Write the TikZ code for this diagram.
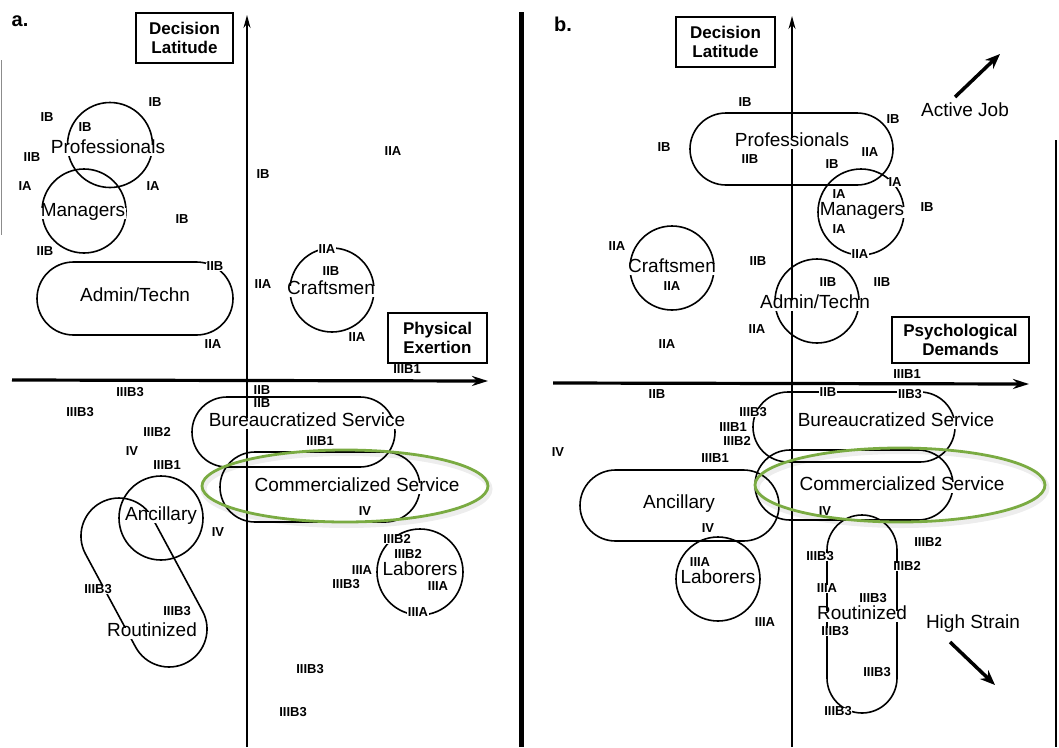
\documentclass[tikz,border=0pt]{standalone}
\usepackage{fontspec}
\setmainfont{Liberation Sans}
\usetikzlibrary{arrows.meta,shapes.misc,shapes.geometric}
\definecolor{hl}{RGB}{122,171,66}
\begin{document}
\begin{tikzpicture}[x=1pt,y=-1pt,
  shp/.style={draw, line width=1.6pt},
  ring/.style={shp, circle, inner sep=0pt, minimum size=#1},
  capsule/.style={shp, rounded rectangle, inner sep=0pt},
  code/.style={font=\bfseries\fontsize{13}{14}\selectfont, fill=white, inner sep=0.6pt,
    text height=0.72em, text depth=0pt},
  grp/.style={font=\fontsize{19}{20}\selectfont, fill=white, inner sep=1pt,
    text height=0.8em, text depth=0.1em},
  ttl/.style={draw, line width=1.8pt, font=\bfseries\fontsize{17}{18.5}\selectfont,
    align=center, inner sep=0pt},
  tag/.style={font=\bfseries\fontsize{20}{21}\selectfont},
  axisv/.style={line width=1.8pt, -{Stealth[length=13pt,width=7pt]}},
  axish/.style={line width=3.2pt, -{Stealth[length=16pt,width=10pt]}},
  trend/.style={line width=3.5pt, -{Stealth[length=15pt,width=12pt]}},
  mark ring/.style={draw=hl, line width=2.8pt, ellipse, inner sep=0pt},
  halo/.style={draw=black, opacity=0.07, line width=6pt, ellipse, inner sep=0pt}
]
\useasboundingbox (0,0) rectangle (1059,747);

% ---------- frame lines ----------
\coordinate (divT) at (521,12);   \coordinate (divB) at (521,747);
\coordinate (edgeT) at (1056,140); \coordinate (edgeB) at (1056,747);
\coordinate (ledgeT) at (1,60);   \coordinate (ledgeB) at (1,235);
\draw[line width=5pt] (divT) -- (divB);
\draw[line width=1.6pt] (edgeT) -- (edgeB);
\draw[line width=1pt, black!45] (ledgeT) -- (ledgeB);

% ---------- axes ----------
\coordinate (aV0) at (247,747); \coordinate (aV1) at (247,15);
\coordinate (aH0) at (12,380);  \coordinate (aH1) at (488,381);
\coordinate (bV0) at (792,747); \coordinate (bV1) at (792,16);
\coordinate (bH0) at (553,383); \coordinate (bH1) at (1029,384);
\draw[axisv] (aV0) -- (aV1);
\draw[axish] (aH0) -- (aH1);
\draw[axisv] (bV0) -- (bV1);
\draw[axish] (bH0) -- (bH1);

% ---------- panel a: group outlines ----------
\node[ring=85pt] (aProf) at (110,145) {};
\node[ring=84pt] (aMan) at (84,211) {};
\node[capsule, minimum width=196pt, minimum height=73pt] (aAdm) at (135,298.5) {};
\node[ring=84pt] (aCraft) at (332,290) {};
\node[capsule, minimum width=203pt, minimum height=70pt] (aBur) at (293.5,432) {};
\node[capsule, minimum width=200pt, minimum height=70pt] (aCom) at (320,487) {};
\node[ring=84pt] (aAnc) at (161,518) {};
\node[capsule, rotate=-61.7, minimum width=181.6pt, minimum height=76pt] (aRout) at (144,582.5) {};
\node[ring=86pt] (aLab) at (420,572) {};

% ---------- panel b: group outlines ----------
\node[capsule, minimum width=203pt, minimum height=72pt] (bProf) at (791.5,149) {};
\node[ring=86pt] (bMan) at (861,212) {};
\node[ring=84pt] (bAdm) at (817,301) {};
\node[ring=84pt] (bCraft) at (672,268) {};
\node[capsule, minimum width=202pt, minimum height=70pt] (bBur) at (854,427) {};
\node[capsule, minimum width=198pt, minimum height=70pt] (bCom) at (854,485) {};
\node[capsule, minimum width=199pt, minimum height=71pt] (bAnc) at (679.5,505.5) {};
\node[ring=84pt] (bLab) at (718,579) {};
\node[capsule, rotate=90, minimum width=198pt, minimum height=70pt] (bRout) at (862,614) {};

% ---------- panel labels and axis titles ----------
\node[tag] (tagA) at (20,21) {a.};
\node[tag] (tagB) at (563,24) {b.};
\node[ttl, minimum width=97pt, minimum height=50pt] (aDL) at (184.5,38) {Decision\\Latitude};
\node[ttl, minimum width=99pt, minimum height=50pt] (aPE) at (437.5,338) {Physical\\Exertion};
\node[ttl, minimum width=99pt, minimum height=50pt] (bDL) at (725.5,42) {Decision\\Latitude};
\node[ttl, minimum width=137pt, minimum height=46pt] (bPD) at (960.5,340) {Psychological\\Demands};

% ---------- panel a: occupation codes ----------
\foreach \x/\y/\t [count=\i] in {
  47/118/IB, 155/103/IB, 85/128/IB, 32/158/IIB, 25/187/IA, 153/187/IA,
  182/220/IB, 45/252/IIB, 215/267/IIB, 213/345/IIA, 263/175/IB, 393/152/IIA,
  327/250/IIA, 331/272/IIB, 263/285/IIA, 357/338/IIA, 407/370/IIIB1,
  262/391/IIB, 262/404/IIB, 130/393/IIIB3, 80/413/IIIB3, 157/433/IIIB2,
  132/452/IV, 167/466/IIIB1, 320/442/IIIB1, 218/533/IV, 365/512/IV,
  98/590/IIIB3, 177/612/IIIB3, 397/540/IIIB2, 408/555/IIIB2, 362/571/IIIA,
  346/585/IIIB3, 438/587/IIIA, 418/613/IIIA, 310/670/IIIB3, 293/713/IIIB3}
  \node[code] (ca\i) at (\x,\y) {\t};

% ---------- panel b: occupation codes ----------
\foreach \x/\y/\t [count=\i] in {
  745/103/IB, 664/148/IB, 750/160/IIB, 893/120/IB, 870/153/IIA, 832/165/IB,
  895/183/IA, 839/195/IA, 839/230/IA, 860/255/IIA, 927/208/IB,
  828/283/IIB, 882/283/IIB, 758/262/IIB, 757/330/IIA,
  617/247/IIA, 672/287/IIA, 667/345/IIA, 657/395/IIB, 907/375/IIIB1,
  828/393/IIB, 910/395/IIB3, 753/413/IIIB3, 733/428/IIIB1, 737/442/IIIB2,
  715/459/IIIB1, 558/453/IV, 825/512/IV, 708/529/IV, 700/563/IIIA,
  765/623/IIIA, 820/557/IIIB3, 928/543/IIIB2, 907/567/IIIB2, 827/589/IIIA,
  873/599/IIIB3, 835/632/IIIB3, 877/673/IIIB3, 838/712/IIIB3}
  \node[code] (cb\i) at (\x,\y) {\t};

% ---------- group names ----------
\node[grp] (aProfT) at (108,150) {Professionals};
\node[grp] (aManT) at (83,213) {Managers};
\node[grp] (aAdmT) at (135,298) {Admin/Techn};
\node[grp] (aCraftT) at (331,291) {Craftsmen};
\node[grp] (aBurT) at (307,423) {Bureaucratized Service};
\node[grp] (aComT) at (357,488) {Commercialized Service};
\node[grp] (aAncT) at (161,517) {Ancillary};
\node[grp] (aRoutT) at (152,633) {Routinized};
\node[grp] (aLabT) at (420,572) {Laborers};

\node[grp] (bProfT) at (792,143) {Professionals};
\node[grp] (bManT) at (862,212) {Managers};
\node[grp] (bAdmT) at (815,305) {Admin/Techn};
\node[grp] (bCraftT) at (672,269) {Craftsmen};
\node[grp] (bBurT) at (896,423) {Bureaucratized Service};
\node[grp] (bComT) at (902,487) {Commercialized Service};
\node[grp] (bAncT) at (679,505) {Ancillary};
\node[grp] (bLabT) at (718,580) {Laborers};
\node[grp] (bRoutT) at (862,616) {Routinized};

% ---------- quadrant directions ----------
\node[grp] (active) at (965,113) {Active Job};
\node[grp] (strain) at (973,625) {High Strain};
\coordinate (act0) at (955,97);  \coordinate (act1) at (1000,54);
\coordinate (str0) at (950,642); \coordinate (str1) at (995,685);
\draw[trend] (act0) -- (act1);
\draw[trend] (str0) -- (str1);

% ---------- highlighted group ----------
\node[halo, minimum width=286pt, minimum height=72pt] (aHalo) at (346.5,489) {};
\node[halo, minimum width=290pt, minimum height=74pt] (bHalo) at (901.5,488) {};
\node[mark ring, minimum width=286pt, minimum height=72pt] (aMark) at (345,486) {};
\node[mark ring, minimum width=290pt, minimum height=74pt] (bMark) at (900,485) {};
\end{tikzpicture}
\end{document}
